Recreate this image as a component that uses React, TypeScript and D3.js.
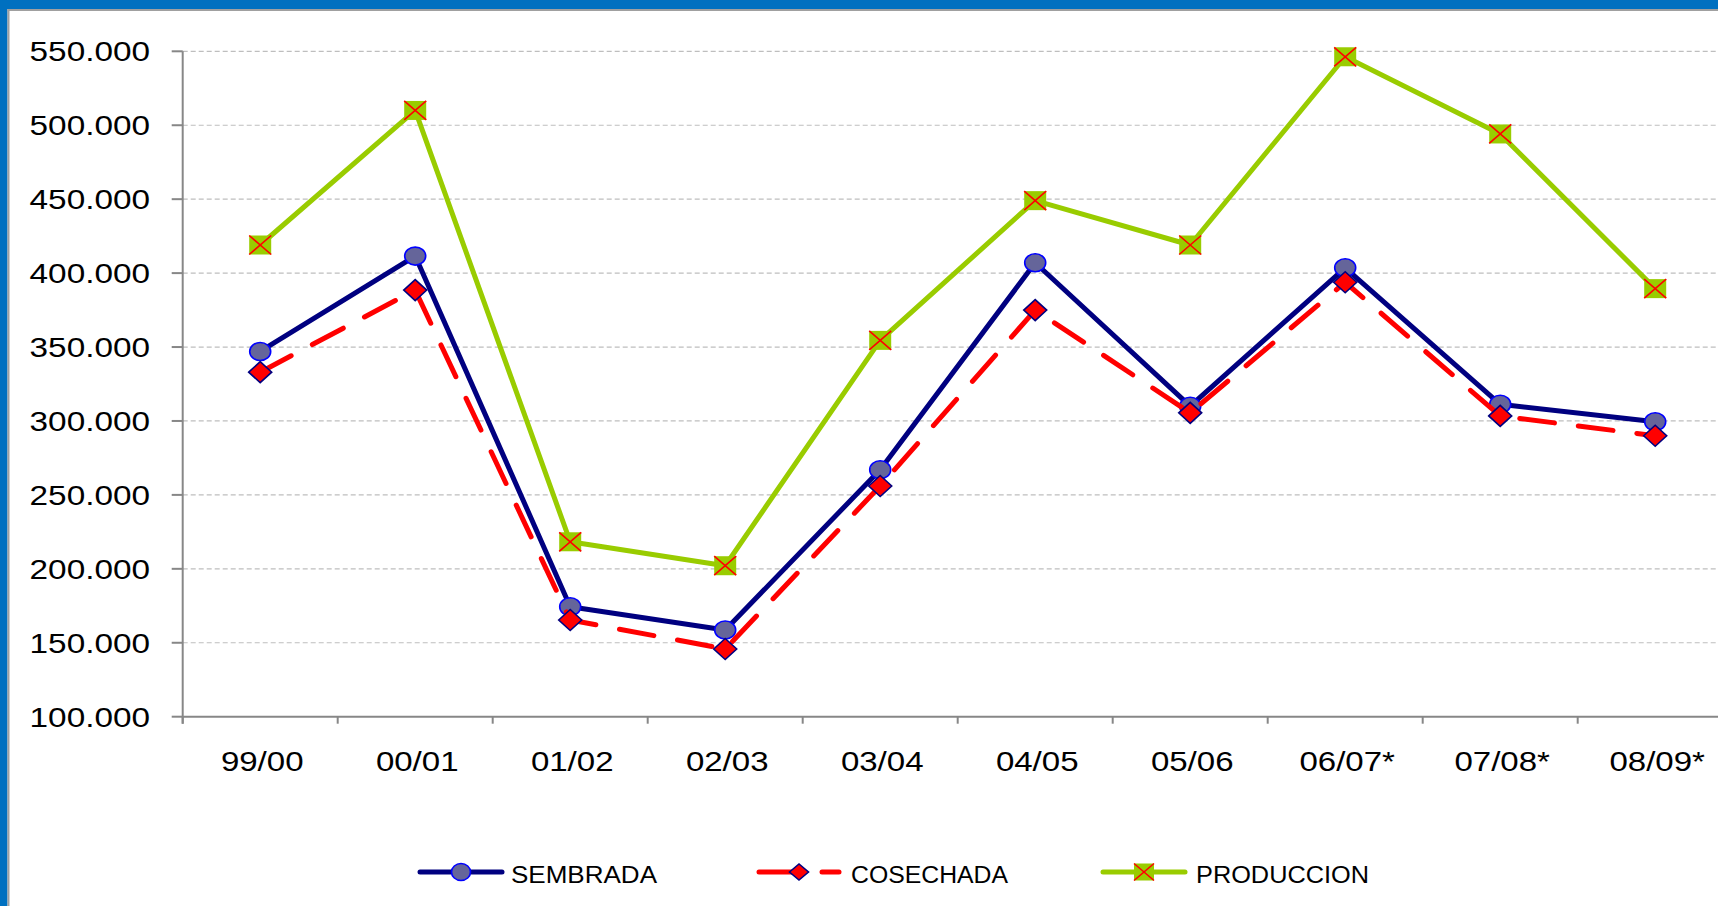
import React from "react";
import * as d3 from "d3";

const categories = ["99/00", "00/01", "01/02", "02/03", "03/04", "04/05", "05/06", "06/07*", "07/08*", "08/09*"];
const sembrada = [347000, 411500, 174400, 158600, 267000, 407000, 310000, 403600, 311300, 299500];
const cosechada = [333000, 388500, 165400, 145800, 256000, 375000, 305500, 393800, 303400, 290000];
const produccion = [419000, 510000, 218300, 202100, 354500, 449000, 419000, 546300, 494100, 389500];
const yTicks = [100000, 150000, 200000, 250000, 300000, 350000, 400000, 450000, 500000, 550000];
const legendNames = ["SEMBRADA", "COSECHADA", "PRODUCCION"];

const W = 1718;
const H = 906;
const plotLeft = 182.7;
const step = 155;
const yTop = 51.3;
const yBottom = 716.7;

const fmt = (v: number) => d3.format(",.0f")(v).replace(/,/g, ".");

function Circle({ x, y, rx = 10.5, ry = 9 }: { x: number; y: number; rx?: number; ry?: number }) {
  return <ellipse cx={x} cy={y} rx={rx} ry={ry} fill="#65659A" stroke="#0000FF" strokeWidth={1.6} />;
}
function Diamond({ x, y, hw = 11.5, hh = 10.5 }: { x: number; y: number; hw?: number; hh?: number }) {
  return (
    <path
      d={`M${x - hw},${y} L${x},${y - hh} L${x + hw},${y} L${x},${y + hh} Z`}
      fill="#FF0000"
      stroke="#000080"
      strokeWidth={1.6}
    />
  );
}
function SquareX({ x, y, hw = 11, hh = 9.5 }: { x: number; y: number; hw?: number; hh?: number }) {
  return (
    <g>
      <rect x={x - hw} y={y - hh} width={2 * hw} height={2 * hh} fill="#99CC00" />
      <line x1={x - hw} y1={y - hh} x2={x + hw} y2={y + hh} stroke="#FF0000" strokeWidth={1.6} />
      <line x1={x - hw} y1={y + hh} x2={x + hw} y2={y - hh} stroke="#FF0000" strokeWidth={1.6} />
    </g>
  );
}

export default function App() {
  const x = d3
    .scaleBand<string>()
    .domain(categories)
    .range([plotLeft, plotLeft + step * categories.length]);
  const y = d3.scaleLinear().domain([100000, 550000]).range([yBottom, yTop]);
  const cx = (c: string) => (x(c) as number) + x.bandwidth() / 2;

  const line = d3
    .line<number>()
    .x((_, i) => cx(categories[i]))
    .y((v) => y(v));

  const axisColor = "#878787";
  const xAxisEnd = plotLeft + step * categories.length;

  return (
    <svg
      width={W}
      height={H}
      style={{ position: "absolute", left: 0, top: 0, background: "#fff" }}
      fontFamily="'Liberation Sans', Arial, sans-serif"
    >
      {/* frame */}
      <rect x={0} y={0} width={W} height={H} fill="#ffffff" />
      <rect x={0} y={0} width={W} height={9} fill="#0070C0" />
      <rect x={0} y={0} width={7.5} height={H} fill="#0070C0" />
      <rect x={7.5} y={9} width={W} height={2} fill="#A0A0A0" />
      <rect x={7.5} y={9} width={2} height={H} fill="#A0A0A0" />

      {/* gridlines */}
      {yTicks.slice(1).map((t) => (
        <line
          key={t}
          x1={plotLeft}
          x2={W}
          y1={y(t)}
          y2={y(t)}
          stroke="#BEBEBE"
          strokeWidth={1.2}
          strokeDasharray="5 3"
        />
      ))}

      {/* y axis */}
      <line x1={plotLeft} x2={plotLeft} y1={yTop} y2={yBottom + 7} stroke={axisColor} strokeWidth={2} />
      {yTicks.map((t) => (
        <g key={t}>
          <line x1={plotLeft - 11} x2={plotLeft} y1={y(t)} y2={y(t)} stroke={axisColor} strokeWidth={2} />
          <text
            transform={`translate(150,${y(t) + 10}) scale(1.19,1)`}
            textAnchor="end"
            fontSize={28}
            fill="#000"
          >
            {fmt(t)}
          </text>
        </g>
      ))}

      {/* x axis */}
      <line x1={plotLeft} x2={xAxisEnd} y1={yBottom} y2={yBottom} stroke={axisColor} strokeWidth={2} />
      {categories.map((c, i) => (
        <line
          key={"t" + c}
          x1={plotLeft + step * i}
          x2={plotLeft + step * i}
          y1={yBottom}
          y2={yBottom + 7}
          stroke={axisColor}
          strokeWidth={2}
        />
      ))}
      {categories.map((c) => (
        <text
          key={"l" + c}
          transform={`translate(${cx(c) + 2},771) scale(1.18,1)`}
          textAnchor="middle"
          fontSize={28}
          fill="#000"
        >
          {c}
        </text>
      ))}

      {/* SEMBRADA */}
      <path d={line(sembrada) as string} fill="none" stroke="#000080" strokeWidth={5} strokeLinejoin="round" />
      {sembrada.map((v, i) => (
        <Circle key={"s" + i} x={cx(categories[i])} y={y(v)} />
      ))}

      {/* COSECHADA */}
      <path
        d={line(cosechada) as string}
        fill="none"
        stroke="#FF0000"
        strokeWidth={5}
        strokeDasharray="35 24"
        strokeLinecap="round"
        strokeLinejoin="round"
      />
      {cosechada.map((v, i) => (
        <Diamond key={"c" + i} x={cx(categories[i])} y={y(v)} />
      ))}

      {/* PRODUCCION */}
      <path d={line(produccion) as string} fill="none" stroke="#99CC00" strokeWidth={5} strokeLinejoin="round" />
      {produccion.map((v, i) => (
        <SquareX key={"p" + i} x={cx(categories[i])} y={y(v)} />
      ))}

      {/* legend */}
      <g>
        <line x1={420} x2={502} y1={872} y2={872} stroke="#000080" strokeWidth={5} strokeLinecap="round" />
        <Circle x={461} y={872} rx={9.5} ry={8.5} />
        <text x={511} y={883} fontSize={23.5} fill="#000" textLength={146} lengthAdjust="spacingAndGlyphs">
          {legendNames[0]}
        </text>

        <line x1={759} x2={795} y1={872} y2={872} stroke="#FF0000" strokeWidth={5} strokeLinecap="round" />
        <line x1={822} x2={839} y1={872} y2={872} stroke="#FF0000" strokeWidth={5} strokeLinecap="round" />
        <Diamond x={799} y={872} hw={9.5} hh={8} />
        <text x={851} y={883} fontSize={23.5} fill="#000" textLength={157} lengthAdjust="spacingAndGlyphs">
          {legendNames[1]}
        </text>

        <line x1={1103} x2={1185} y1={872} y2={872} stroke="#99CC00" strokeWidth={5} strokeLinecap="round" />
        <SquareX x={1144} y={872} hw={10} hh={8.5} />
        <text x={1196} y={883} fontSize={23.5} fill="#000" textLength={173} lengthAdjust="spacingAndGlyphs">
          {legendNames[2]}
        </text>
      </g>
    </svg>
  );
}
